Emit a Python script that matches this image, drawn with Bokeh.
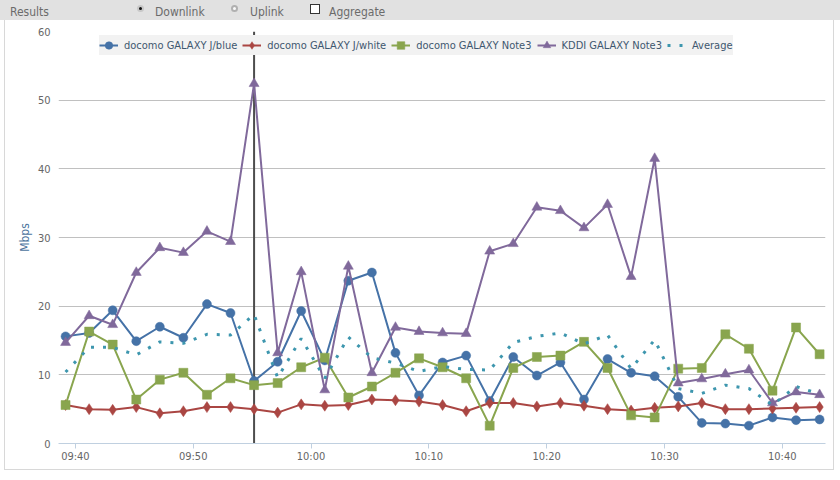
import pandas as pd
from bokeh.plotting import figure
from bokeh.models import (Range1d, DatetimeTickFormatter, FixedTicker, Span, Legend,
                          LegendItem, Div)
from bokeh.layouts import column
from bokeh.embed import file_html
from bokeh.resources import INLINE

# ---------------- data ----------------
times = ["09:39:10", "09:41:10", "09:43:10", "09:45:10", "09:47:10", "09:49:10", "09:51:10",
         "09:53:10", "09:55:10", "09:57:10", "09:59:10", "10:01:10", "10:03:10", "10:05:10",
         "10:07:10", "10:09:10", "10:11:10", "10:13:10", "10:15:10", "10:17:10", "10:19:10",
         "10:21:10", "10:23:10", "10:25:10", "10:27:10", "10:29:10", "10:31:10", "10:33:10",
         "10:35:10", "10:37:10", "10:39:10", "10:41:10", "10:43:10"]

galaxy_j_blue = [15.6, 16.1, 19.4, 14.9, 17.0, 15.4, 20.3, 19.0, 9.1, 11.9, 19.3,
                 12.1, 23.7, 24.9, 13.2, 7.0, 11.8, 12.8, 6.2, 12.6, 9.9, 11.8,
                 6.4, 12.3, 10.3, 9.8, 6.8, 3.0, 2.9, 2.6, 3.8, 3.4, 3.5]
galaxy_j_white = [5.6, 5.0, 4.9, 5.3, 4.4, 4.7, 5.3, 5.3, 5.0, 4.5, 5.7,
                  5.5, 5.6, 6.4, 6.3, 6.1, 5.6, 4.7, 5.9, 5.9, 5.4, 5.9,
                  5.5, 5.0, 4.8, 5.2, 5.4, 5.9, 5.0, 5.0, 5.1, 5.2, 5.3]
docomo_note3 = [5.6, 16.3, 14.4, 6.4, 9.3, 10.3, 7.1, 9.5, 8.5, 8.8, 11.1,
                12.5, 6.7, 8.3, 10.3, 12.4, 11.1, 9.5, 2.6, 11.0, 12.6, 12.8,
                14.8, 11.0, 4.1, 3.8, 10.9, 11.0, 15.9, 13.8, 7.7, 16.9, 13.0]
kddi_note3 = [14.7, 18.6, 17.3, 24.9, 28.5, 27.8, 30.9, 29.4, 52.4, 13.2, 25.0,
              7.8, 25.8, 10.3, 16.9, 16.3, 16.1, 16.0, 28.0, 29.1, 34.4, 33.9,
              31.4, 34.8, 24.3, 41.5, 8.8, 9.4, 10.1, 10.7, 5.9, 7.5, 7.1]
average = [10.4, 14.0, 14.0, 12.9, 14.8, 14.6, 15.9, 15.8, 18.8, 9.6, 15.3,
           9.5, 15.5, 12.5, 11.7, 10.5, 11.2, 10.8, 10.7, 14.7, 15.6, 16.1,
           14.5, 15.8, 10.9, 15.1, 8.0, 7.3, 8.5, 8.0, 5.6, 8.3, 7.2]

series_names = ["docomo GALAXY J/blue", "docomo GALAXY J/white",
                "docomo GALAXY Note3", "KDDI GALAXY Note3", "Average"]
x_tick_labels = ["09:40", "09:50", "10:00", "10:10", "10:20", "10:30", "10:40"]
y_ticks = [0, 10, 20, 30, 40, 50, 60]
marked_time = "09:55:10"
x_start, x_end = "09:38:34", "10:43:40"

DAY = "2014-01-01 "
def ts(s):
    return pd.Timestamp(DAY + s)

xs = [ts(t) for t in times]

FONT = "DejaVu Sans Condensed"

p = figure(width=840, height=458, x_axis_type="datetime", output_backend="svg",
           toolbar_location=None, title=None,
           x_range=Range1d(ts(x_start), ts(x_end)), y_range=Range1d(0, 60),
           min_border_left=58, min_border_right=15, min_border_top=11, min_border_bottom=35)
p.outline_line_color = None
p.background_fill_color = "white"
p.border_fill_color = "white"

# grid
p.xgrid.grid_line_color = None
p.ygrid.grid_line_color = "#C0C0C0"
p.ygrid.grid_line_width = 1

# axes
p.yaxis.ticker = FixedTicker(ticks=y_ticks)
p.yaxis.axis_line_color = None
p.yaxis.major_tick_line_color = None
p.yaxis.major_tick_out = 0
p.yaxis.major_tick_in = 0
p.yaxis.minor_tick_line_color = None
p.yaxis.minor_tick_out = 0
p.yaxis.major_label_text_color = "#666666"
p.yaxis.major_label_text_font = FONT
p.yaxis.major_label_text_font_size = "11px"
p.yaxis.major_label_standoff = 8
p.yaxis.axis_label = "Mbps"
p.yaxis.axis_label_text_color = "#4d759e"
p.yaxis.axis_label_text_font = FONT
p.yaxis.axis_label_text_font_style = "normal"
p.yaxis.axis_label_text_font_size = "12px"
p.yaxis.axis_label_standoff = 3

p.xaxis.ticker = FixedTicker(ticks=[ts(t + ":00").value / 1e6 for t in x_tick_labels])
p.xaxis.formatter = DatetimeTickFormatter(minutes="%H:%M", hours="%H:%M", minsec="%H:%M",
                                          seconds="%H:%M", days="%H:%M")
p.xaxis.axis_line_color = "#C0D0E0"
p.xaxis.major_tick_line_color = "#C0D0E0"
p.xaxis.major_tick_out = 5
p.xaxis.major_tick_in = 0
p.xaxis.minor_tick_line_color = None
p.xaxis.minor_tick_out = 0
p.xaxis.major_label_text_color = "#666666"
p.xaxis.major_label_text_font = FONT
p.xaxis.major_label_text_font_size = "11px"
p.xaxis.major_label_standoff = 1

colors = ["#4572A7", "#AA4643", "#89A54E", "#80699B", "#3D96AE"]
markers = ["circle", "diamond", "square", "triangle"]
sizes = [9, 11, 9, 10]
data = [galaxy_j_blue, galaxy_j_white, docomo_note3, kddi_note3]

span = Span(location=ts(marked_time), dimension="height", line_color="#4d4d4d",
            line_width=2, level="underlay")
p.add_layout(span)

items = []
for name, ys, c, m, s in zip(series_names[:4], data, colors[:4], markers, sizes):
    lr = p.line(xs, ys, line_color=c, line_width=2)
    sr = p.scatter(xs, ys, marker=m, size=s, fill_color=c, line_color=c, line_width=0.5)
    items.append(LegendItem(label=name, renderers=[lr, sr]))

avg_r = p.line(xs, average, line_color=colors[4], line_width=3, line_dash="3 9")
items.append(LegendItem(label=series_names[4], renderers=[avg_r]))

legend = Legend(items=items, orientation="horizontal", location=(41, 388),
                background_fill_color="#F2F2F2", background_fill_alpha=1,
                border_line_color=None, label_text_font=FONT, label_text_font_size="11px",
                label_text_color="#3E576F", glyph_width=19, glyph_height=20,
                label_height=20, label_standoff=6, spacing=5, padding=4, margin=0)
p.add_layout(legend)

header_html = (
    '<div style="position:relative;width:840px;height:20px;background:#E1E1E1;'
    'font-family:\'DejaVu Sans Condensed\',sans-serif;font-size:12px;color:#6b6b6b;line-height:20px;">'
    '<span style="position:absolute;left:10px;top:2px;">Results</span>'
    '<span style="position:absolute;left:137px;top:5px;width:7px;height:7px;border-radius:50%;'
    'background:#111;border:2px solid #c8c8c8;"></span>'
    '<span style="position:absolute;left:155px;top:2px;">Downlink</span>'
    '<span style="position:absolute;left:231px;top:5px;width:7px;height:7px;border-radius:50%;'
    'background:#fafafa;border:2px solid #b0b0b0;"></span>'
    '<span style="position:absolute;left:250px;top:2px;">Uplink</span>'
    '<span style="position:absolute;left:310px;top:4px;width:10px;height:10px;'
    'background:#fff;border:1px solid #333;"></span>'
    '<span style="position:absolute;left:329px;top:2px;">Aggregate</span>'
    '<div style="position:absolute;left:4px;top:20px;width:830px;height:450px;'
    'border:1px solid #D8D8D8;border-top:none;pointer-events:none;z-index:10;"></div>'
    '</div>'
)
header = Div(text=header_html, width=840, height=20, margin=0)

layout = column(header, p, spacing=0)
open("out.html", "w").write(file_html(layout, INLINE))
